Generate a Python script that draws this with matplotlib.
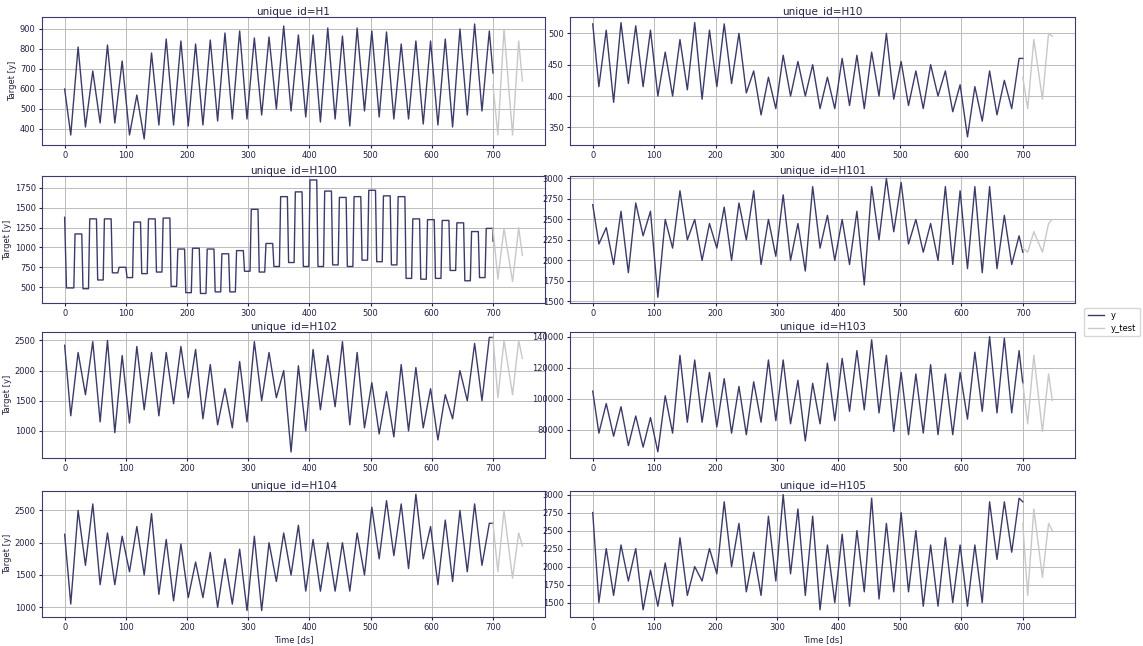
import numpy as np
import matplotlib
matplotlib.use("Agg")
import matplotlib.pyplot as plt

series_ids = ["H1", "H10", "H100", "H101", "H102", "H103", "H104", "H105"]

# train: start value, troughs (~10+24k), peaks (~22+24k), end value at ds=700
start_vals = {"H1": 600, "H10": 515, "H101": 2680, "H102": 2420, "H103": 105000, "H104": 2130, "H105": 2750}
end_vals = {"H1": 680, "H10": 460, "H100": 1080, "H101": 2100, "H102": 2550, "H103": 110000, "H104": 2300, "H105": 2900}

troughs = {
    "H1": [370, 410, 430, 430, 370, 350, 420, 420, 415, 420, 440, 450, 450, 470, 500, 490, 460, 435, 450, 415, 490, 460, 450, 450, 425, 420, 410, 470, 490],
    "H10": [415, 390, 420, 415, 400, 400, 410, 395, 415, 420, 405, 370, 380, 400, 400, 380, 380, 385, 380, 400, 395, 385, 380, 400, 375, 335, 360, 370, 380],
    "H101": [2200, 1950, 1850, 2300, 1550, 2150, 2250, 2000, 2150, 2000, 2250, 1950, 2050, 2000, 1870, 2150, 2000, 1950, 1700, 2250, 2350, 2200, 2100, 2000, 1950, 1900, 1850, 1900, 1950],
    "H102": [1250, 1600, 1150, 970, 1130, 1350, 1250, 1450, 1550, 1200, 1100, 1050, 1150, 1500, 1550, 650, 1000, 1350, 1400, 1100, 1050, 950, 900, 1000, 1050, 850, 1200, 1500, 1500],
    "H103": [78000, 76000, 70000, 69000, 66000, 78000, 85000, 85000, 82000, 78000, 77000, 85000, 86000, 84000, 73000, 84000, 86000, 92000, 93000, 91000, 79000, 77000, 78000, 77000, 77000, 87000, 92000, 91000, 91000],
    "H104": [1050, 1650, 1350, 1350, 1550, 1500, 1200, 1100, 1150, 1150, 1000, 1050, 950, 950, 1400, 1500, 1250, 1250, 1250, 1250, 1500, 1750, 1800, 1600, 1750, 1350, 1400, 1550, 1650],
    "H105": [1500, 1600, 1800, 1400, 1450, 1450, 1600, 1800, 1900, 2000, 1650, 1600, 1800, 1900, 1600, 1400, 1500, 1450, 1650, 1550, 1650, 1650, 1450, 1450, 1500, 1450, 1500, 2100, 2200],
}
peaks = {
    "H1": [810, 690, 820, 740, 570, 780, 850, 840, 825, 845, 880, 890, 855, 860, 915, 870, 870, 905, 865, 905, 890, 885, 825, 840, 840, 850, 900, 925, 890],
    "H10": [505, 517, 512, 505, 470, 490, 517, 505, 515, 500, 440, 430, 465, 455, 450, 430, 460, 465, 470, 500, 455, 440, 450, 440, 418, 415, 440, 425, 460],
    "H101": [2400, 2600, 2700, 2600, 2500, 2850, 2500, 2450, 2650, 2700, 2850, 2500, 2800, 2450, 2900, 2550, 2500, 2600, 2900, 3000, 2950, 2500, 2450, 2900, 2850, 2900, 2900, 2550, 2300],
    "H102": [2300, 2480, 2500, 2250, 2400, 2300, 2300, 2400, 2350, 2100, 1700, 2150, 2480, 2300, 2000, 2080, 2350, 2250, 2480, 2300, 1800, 1650, 2100, 2050, 1700, 1600, 2000, 2450, 2550],
    "H103": [97000, 95000, 89000, 88000, 102000, 128000, 125000, 117000, 113000, 108000, 111000, 125000, 125000, 112000, 110000, 123000, 126000, 131000, 138000, 128000, 117000, 116000, 122000, 116000, 117000, 130000, 140000, 139000, 131000],
    "H104": [2500, 2600, 2150, 2100, 2250, 2450, 2050, 1980, 1700, 1850, 1750, 1900, 2100, 2000, 2150, 2270, 2050, 2000, 2000, 2150, 2550, 2650, 2600, 2750, 2250, 2350, 2500, 2600, 2300],
    "H105": [2250, 2300, 2250, 1950, 2050, 2400, 2000, 2250, 2900, 2600, 2200, 2700, 3000, 2800, 2700, 2300, 2450, 2500, 2950, 2600, 2750, 2500, 2300, 2400, 2300, 2300, 2900, 2900, 2950],
}
# H100 is plateau-shaped: low and high levels per cycle
h100_start = 1380
h100_lows = [490, 480, 590, 680, 620, 670, 690, 510, 430, 420, 440, 440, 700, 690, 760, 810, 760, 760, 780, 760, 840, 820, 780, 610, 600, 610, 710, 580, 620]
h100_highs = [1170, 1360, 1360, 750, 1320, 1360, 1370, 980, 990, 980, 920, 960, 1480, 1050, 1640, 1700, 1850, 1710, 1630, 1640, 1720, 1650, 1640, 1360, 1350, 1340, 1310, 1200, 1240]

# test segment keypoints (ds 700..748)
test_ds = [700, 708, 718, 732, 742, 748]
test_vals = {
    "H1": [620, 370, 900, 370, 840, 640],
    "H10": [430, 380, 490, 395, 500, 495],
    "H100": [1240, 600, 1240, 570, 1250, 900],
    "H101": [2150, 2100, 2350, 2100, 2450, 2500],
    "H102": [2550, 1550, 2500, 1600, 2500, 2200],
    "H103": [110000, 84000, 128000, 79000, 116000, 99000],
    "H104": [2300, 1550, 2500, 1450, 2150, 1950],
    "H105": [2600, 1600, 2800, 1850, 2600, 2500],
}

def train_curve(uid):
    if uid == "H100":
        ds, ys = [0, 3], [h100_start, h100_lows[0]]
        for k in range(29):
            ds += [24 * k + 15, 24 * k + 17, 24 * k + 28]
            ys += [h100_lows[k], h100_highs[k], h100_highs[k]]
            if k + 1 < 29:
                ds += [24 * k + 30]
                ys += [h100_lows[k + 1]]
        ds += [700]
        ys += [end_vals[uid]]
        return ds, ys
    ds, ys = [0], [start_vals[uid]]
    for k in range(29):
        ds += [24 * k + 10, 24 * k + 22]
        ys += [troughs[uid][k], peaks[uid][k]]
    ds += [700]
    ys += [end_vals[uid]]
    return ds, ys

navy = "#3b3b6b"
grey = "#c8c8c8"
spine = "#3b3b6b"
txt = "#222244"

fig = plt.figure(figsize=(11.43, 6.46), dpi=100)
W, H = 1143, 646
cols = [(42, 545), (570, 1075)]
rows = [(17, 145), (176, 303), (332, 458), (491, 617)]
ylims = {"H1": (320, 960), "H10": (322, 526), "H100": (300, 1900), "H101": (1480, 3030),
         "H102": (550, 2640), "H103": (62000, 143000), "H104": (850, 2800), "H105": (1300, 3050)}

handles = None
for i, uid in enumerate(series_ids):
    r, c = divmod(i, 2)
    x0, x1 = cols[c]
    y0, y1 = rows[r]
    ax = fig.add_axes([x0 / W, 1 - y1 / H, (x1 - x0) / W, (y1 - y0) / H])
    ds, ys = train_curve(uid)
    l1, = ax.plot(ds, ys, color=navy, lw=1.0, label="y")
    l2, = ax.plot(test_ds, test_vals[uid], color=grey, lw=1.0, label="y_test")
    handles = [l1, l2]
    ax.set_xlim(-37, 785)
    ax.set_ylim(*ylims[uid])
    ax.set_xticks(range(0, 701, 100))
    ax.grid(True, color="#bbbbbb", lw=0.7)
    ax.set_title(f"unique_id={uid}", fontsize=7.5, color=txt, pad=2)
    ax.tick_params(labelsize=6, colors=txt, length=2.5, pad=2)
    for s in ax.spines.values():
        s.set_color(spine)
    if c == 0:
        ax.set_ylabel("Target [y]", fontsize=6, color=txt, labelpad=2)
    if r == 3:
        ax.set_xlabel("Time [ds]", fontsize=6, color=txt, labelpad=2)

fig.legend(handles, ["y", "y_test"], loc="center left", bbox_to_anchor=(1080 / W, 1 - 322 / H),
           fontsize=6, frameon=True)
fig.savefig("out.png", dpi=100)
